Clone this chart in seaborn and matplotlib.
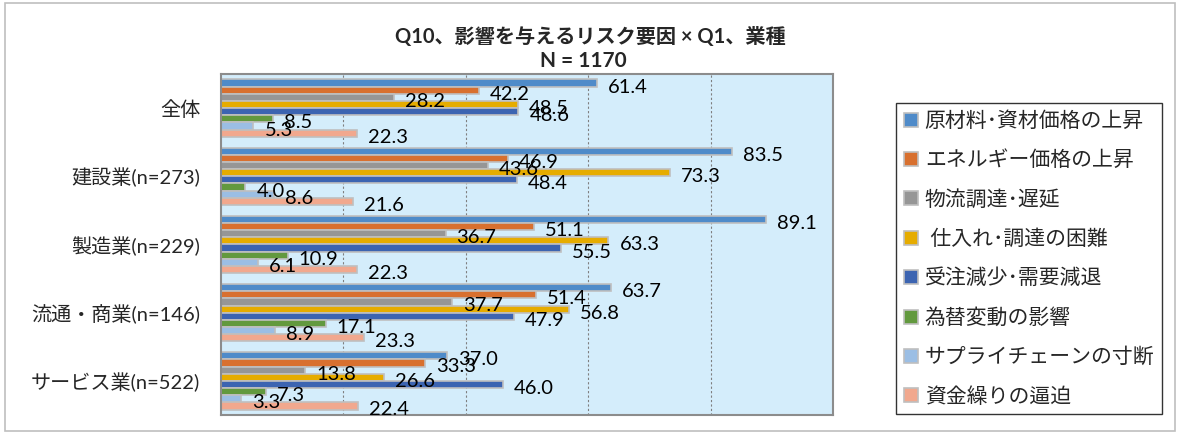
import numpy as np
import pandas as pd
import matplotlib
matplotlib.use("Agg")
import matplotlib.pyplot as plt
from matplotlib.lines import Line2D
from matplotlib.patches import Rectangle
import seaborn as sns

categories = ["全体", "建設業(n=273)", "製造業(n=229)", "流通・商業(n=146)", "サービス業(n=522)"]
series = ["原材料･資材価格の上昇", "エネルギー価格の上昇", "物流調達･遅延", " 仕入れ･調達の困難",
          "受注減少･需要減退", "為替変動の影響", "サプライチェーンの寸断", "資金繰りの逼迫"]
s_raw_material = [61.4, 83.5, 89.1, 63.7, 37.0]
s_energy = [42.2, 46.9, 51.1, 51.4, 33.3]
s_logistics = [28.2, 43.6, 36.7, 37.7, 13.8]
s_procurement = [48.5, 73.3, 63.3, 56.8, 26.6]
s_demand = [48.6, 48.4, 55.5, 47.9, 46.0]
s_fx = [8.5, 4.0, 10.9, 17.1, 7.3]
s_supply_chain = [5.3, 8.6, 6.1, 8.9, 3.3]
s_funding = [22.3, 21.6, 22.3, 23.3, 22.4]
all_values = [s_raw_material, s_energy, s_logistics, s_procurement, s_demand, s_fx, s_supply_chain, s_funding]

colors = ["#4F8BC9", "#D8702F", "#969696", "#E6AC00", "#3C64B1", "#62993E", "#9BBEE4", "#F1A88E"]

sns.set_theme(style="white")
plt.rcParams['font.family'] = ['Lato', 'Noto Sans CJK JP', 'DejaVu Sans']

rows = []
for s, vals in zip(series, all_values):
    for c, v in zip(categories, vals):
        rows.append({"cat": c, "series": s, "value": v})
df = pd.DataFrame(rows)

W, H = 1180, 434
fig = plt.figure(figsize=(W / 100, H / 100), dpi=100)
fig.patch.set_facecolor("white")

# outer chart border
fig.add_artist(Rectangle((5 / W, 3 / H), 1170 / W, 428 / H, transform=fig.transFigure,
                         fill=False, edgecolor="#BFBFBF", linewidth=1.2))

ax = fig.add_axes([221 / W, (H - 415) / H, (833 - 221) / W, (415 - 74) / H])
ax.set_facecolor("#D4EDFB")

sns.barplot(data=df, y="cat", x="value", hue="series", orient="h", palette=colors,
            hue_order=series, order=categories, width=0.84, saturation=1,
            edgecolor="#BFBFBF", linewidth=1.2, legend=False, ax=ax, errorbar=None)

ax.set_xlim(0, 100)
ax.set_xticks([20, 40, 60, 80])
ax.grid(axis="x", linestyle=(0, (2, 2)), color="#7F7F7F", linewidth=0.8)
ax.grid(axis="y", visible=False)
ax.set_axisbelow(True)
ax.tick_params(axis="x", length=0, labelbottom=False)
ax.tick_params(axis="y", length=0, pad=15, labelsize=14.5)
ax.set_xlabel("")
ax.set_ylabel("")
for sp in ax.spines.values():
    sp.set_color("#8C8C8C")
    sp.set_linewidth(1.5)

# data labels
for cont, vals in zip(ax.containers, all_values):
    for patch, v in zip(cont.patches, vals):
        yc = patch.get_y() + patch.get_height() / 2
        ax.annotate(f"{v:.1f}", xy=(patch.get_width(), yc), xytext=(11, -4),
                    textcoords="offset pixels", ha="left", va="center",
                    fontsize=14.5, color="black", annotation_clip=False)

# titles
fig.text(590 / W, 1 - 37 / H, "Q10、影響を与えるリスク要因 × Q1、業種", ha="center", va="center",
         fontsize=14.5, fontweight="bold")
fig.text(583 / W, 1 - 61 / H, "N = 1170", ha="center", va="center",
         fontsize=15, fontweight="bold")

handles = [Line2D([0], [0], marker="s", linestyle="none", markersize=9.5,
                  markerfacecolor=c, markeredgecolor="#BFBFBF", markeredgewidth=1.2)
           for c in colors]
leg = fig.legend(handles, series, loc="upper left", bbox_to_anchor=(896 / W, 1 - 103 / H),
                 frameon=True, fancybox=False, edgecolor="black", fontsize=15,
                 labelspacing=0.93, handlelength=0.7, handletextpad=0.3, borderpad=0.38,
                 borderaxespad=0)
leg.get_frame().set_linewidth(1.0)

fig.savefig("out.png", dpi=100)
